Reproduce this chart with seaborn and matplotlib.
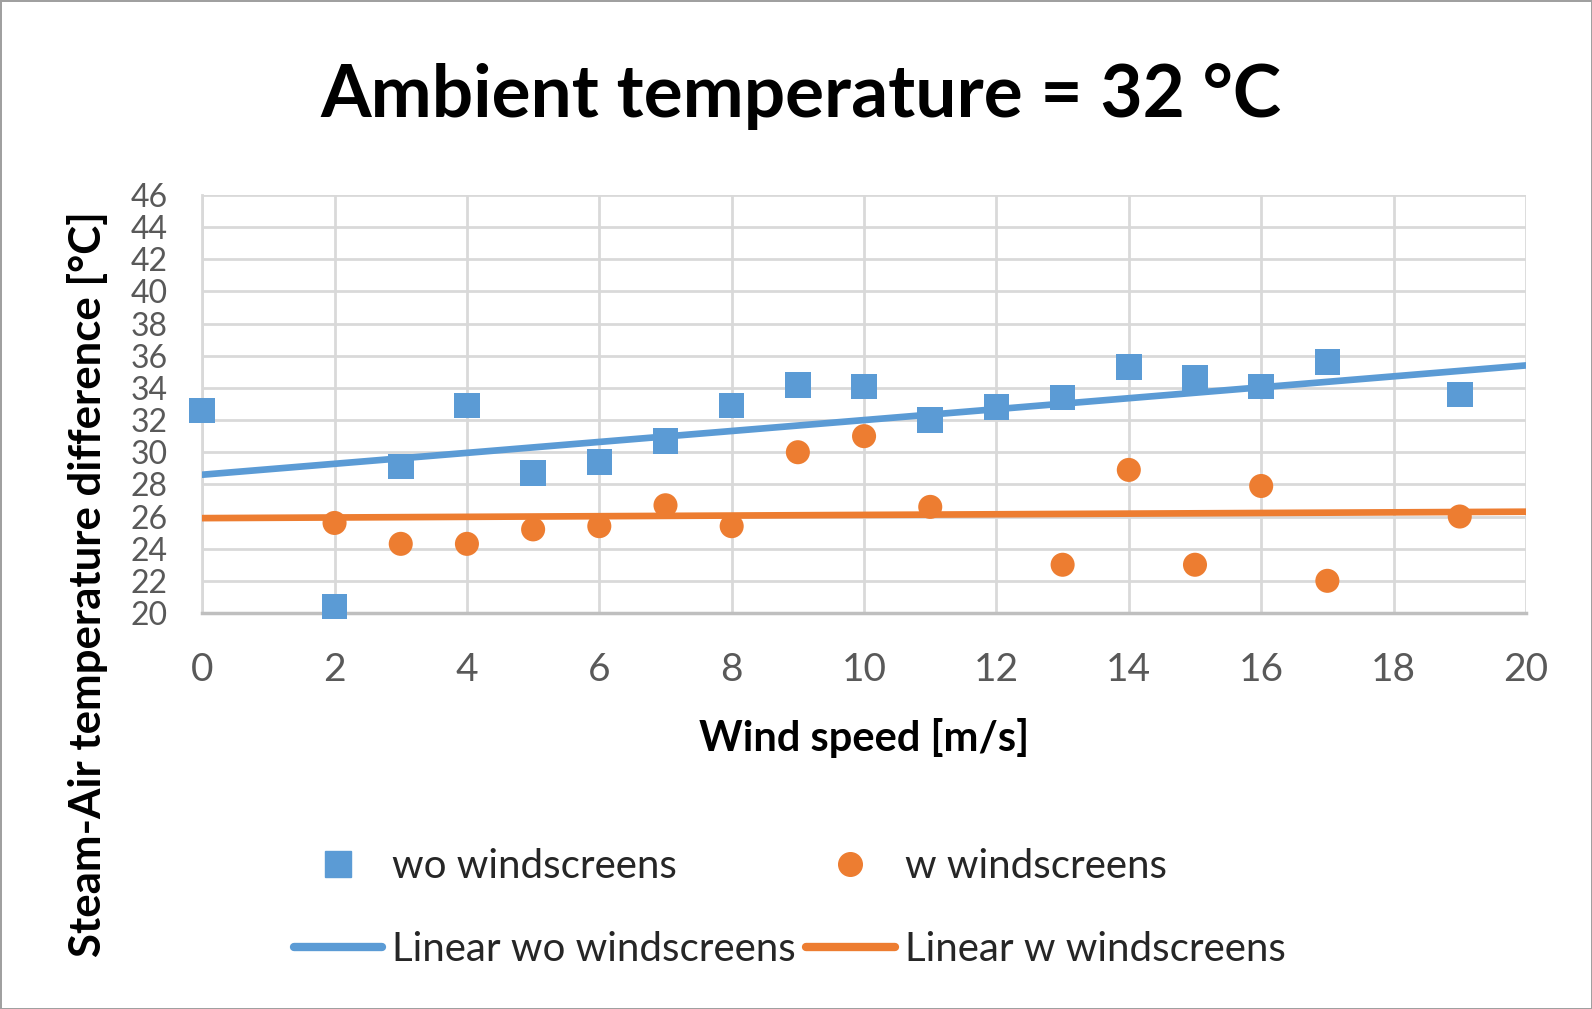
import numpy as np
import pandas as pd
import matplotlib
matplotlib.use("Agg")
import matplotlib.pyplot as plt
import seaborn as sns
from matplotlib.lines import Line2D

# ---- data ----
wo_x = [0, 2, 3, 4, 5, 6, 7, 8, 9, 10, 11, 12, 13, 14, 15, 16, 17, 19]
wo_y = [32.6, 20.4, 29.1, 32.9, 28.7, 29.4, 30.7, 32.9, 34.2, 34.1, 32.0, 32.8, 33.4, 35.3, 34.6, 34.1, 35.6, 33.6]
w_x = [2, 3, 4, 5, 6, 7, 8, 9, 10, 11, 13, 14, 15, 16, 17, 19]
w_y = [25.6, 24.3, 24.3, 25.2, 25.4, 26.7, 25.4, 30.0, 31.0, 26.6, 23.0, 28.9, 23.0, 27.9, 22.0, 26.0]
# linear trendlines, values read at x = 0 and x = 20
trend_x = [0, 20]
trend_wo = [28.6, 35.4]
trend_w = [25.9, 26.3]
x_ticks = list(range(0, 21, 2))
y_ticks = list(range(20, 47, 2))
title = "Ambient temperature = 32 °C"
xlabel = "Wind speed [m/s]"
ylabel = "Steam-Air temperature difference [°C]"
labels = ["wo windscreens", "w windscreens", "Linear wo windscreens", "Linear w windscreens"]

BLUE = "#5B9BD5"
ORANGE = "#ED7D31"

sns.set_theme(style="white")
plt.rcParams['font.family'] = ['Lato', 'DejaVu Sans']

fig = plt.figure(figsize=(15.92, 10.09), dpi=100, edgecolor="#A0A0A0", linewidth=2)
ax = fig.add_axes([0.127, 0.3925, 0.8315, 0.4142])

df_wo = pd.DataFrame({"x": wo_x, "y": wo_y})
df_w = pd.DataFrame({"x": w_x, "y": w_y})
df_tr = pd.DataFrame({"x": trend_x, "wo": trend_wo, "w": trend_w})

sns.lineplot(data=df_tr, x="x", y="wo", ax=ax, color=BLUE, linewidth=4.8, zorder=3)
sns.lineplot(data=df_tr, x="x", y="w", ax=ax, color=ORANGE, linewidth=4.8, zorder=3)

sns.scatterplot(data=df_wo, x="x", y="y", ax=ax, marker="s", s=340, color=BLUE,
                edgecolor="none", zorder=4, clip_on=False)
sns.scatterplot(data=df_w, x="x", y="y", ax=ax, marker="o", s=300, color=ORANGE,
                edgecolor="none", zorder=4, clip_on=False)

ax.set_xlim(0, 20)
ax.set_ylim(20, 46)
ax.set_xticks(x_ticks)
ax.set_yticks(y_ticks)
ax.grid(True, color="#D9D9D9", linewidth=2)
ax.set_axisbelow(True)
for s in ["top", "right"]:
    ax.spines[s].set_visible(False)
ax.spines["left"].set_color("#D9D9D9")
ax.spines["left"].set_linewidth(2)
ax.spines["bottom"].set_color("#BFBFBF")
ax.spines["bottom"].set_linewidth(2.5)
ax.tick_params(axis="x", colors="#595959", labelsize=28, length=0, pad=28)
ax.tick_params(axis="y", colors="#595959", labelsize=23, length=0, pad=25)

ax.set_xlabel(xlabel, fontsize=30, fontweight="bold", color="black", labelpad=22)
ax.set_ylabel("")
fig.text(0.055, 0.421, ylabel, rotation=90, ha="center", va="center",
         fontsize=31.5, fontweight="bold", color="black")
fig.text(0.503, 0.884, title, ha="center", va="baseline", fontsize=52.5,
         fontweight="bold", color="black")

handles = [
    Line2D([], [], linestyle="none", marker="s", markersize=19, color=BLUE),
    Line2D([], [], linestyle="none", marker="o", markersize=17, color=ORANGE),
    Line2D([], [], color=BLUE, linewidth=6, solid_capstyle="round"),
    Line2D([], [], color=ORANGE, linewidth=6, solid_capstyle="round"),
]
order = [0, 2, 1, 3]
fig.legend([handles[i] for i in order], [labels[i] for i in order], ncol=2,
           loc="center", bbox_to_anchor=(0.496, 0.1), frameon=False, fontsize=29,
           handlelength=2.2, handletextpad=0.25, columnspacing=0.25, labelspacing=1.15,
           labelcolor="#262626")

fig.savefig("out.png", dpi=100, facecolor="white", edgecolor=fig.get_edgecolor())
